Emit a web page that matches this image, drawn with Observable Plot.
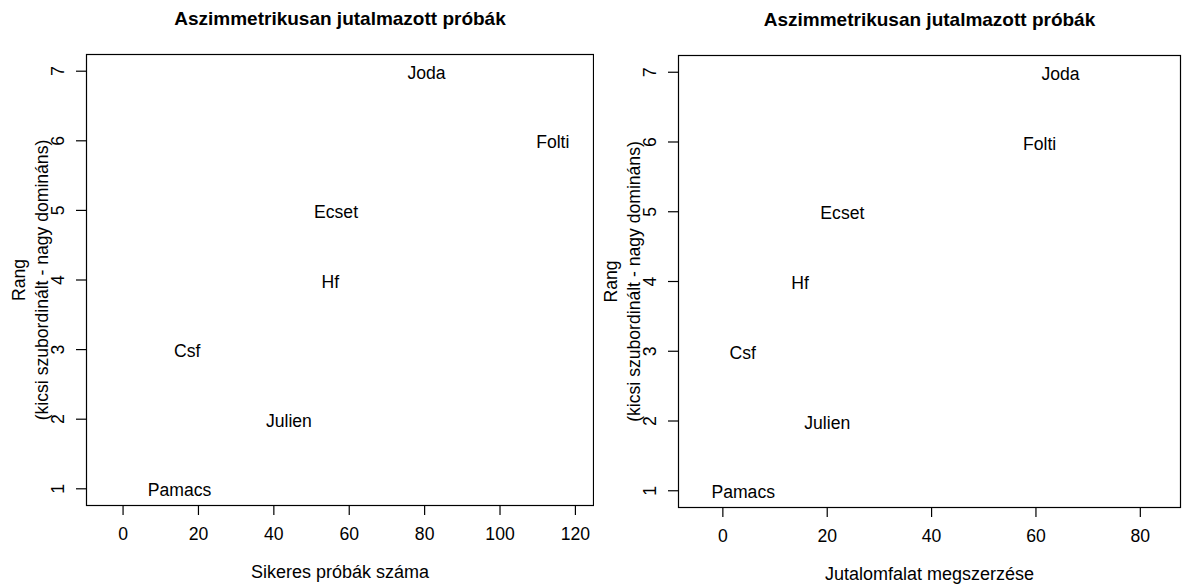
<!DOCTYPE html>
<html>
<head>
<meta charset="utf-8">
<script src="https://cdn.jsdelivr.net/npm/d3@7"></script>
<script src="https://cdn.jsdelivr.net/npm/@observablehq/plot@0.6"></script>
<style>
  html, body { margin: 0; padding: 0; background: #fff; }
  #charts { display: flex; width: 1184px; height: 586px; }
</style>
</head>
<body>
<div id="charts"></div>
<script>
// Individuals, ordered by rank (7 = most dominant)
const names = ["Joda", "Folti", "Ecset", "Hf", "Csf", "Julien", "Pamacs"];
const rang = [7, 6, 5, 4, 3, 2, 1];
// Number of successful trials
const sikeresProbak = [80.5, 114, 56.5, 55, 17, 44, 15];
// Reward bites obtained
const jutalomfalat = [64.7, 60.7, 22.9, 14.8, 3.8, 20, 3.9];

const xTicksLeft = [0, 20, 40, 60, 80, 100, 120];
const xTicksRight = [0, 20, 40, 60, 80];
const yTicks = [1, 2, 3, 4, 5, 6, 7];

const title = "Aszimmetrikusan jutalmazott próbák";
const yLabel = "Rang\n(kicsi szubordinált - nagy domináns)";
const xLabelLeft = "Sikeres próbák száma";
const xLabelRight = "Jutalomfalat megszerzése";

const font = "'Liberation Sans', Arial, Helvetica, sans-serif";

function panel({xs, xDomain, xTicks, xLabel, width, marginLeft, marginRight, marginTop, marginBottom}) {
  return Plot.plot({
    width,
    height: 586,
    marginLeft,
    marginRight,
    marginTop,
    marginBottom,
    style: {fontFamily: font, fontSize: "17.6px", color: "#000", background: "#fff"},
    x: {domain: xDomain},
    y: {domain: [0.76, 7.24]},
    marks: [
      Plot.frame({stroke: "#000", strokeWidth: 1.2}),
      Plot.axisX({ticks: xTicks, tickSize: 10, tickPadding: 12, label: null, stroke: "#000", strokeWidth: 1.2}),
      Plot.axisY({ticks: yTicks, tickSize: 10, tickFormat: () => "", label: null, stroke: "#000", strokeWidth: 1.2}),
      Plot.text(yTicks, {
        y: (d) => d, text: (d) => String(d), frameAnchor: "left",
        rotate: -90, dx: -28, textAnchor: "middle", lineAnchor: "middle"
      }),
      Plot.text(names, {x: xs, y: rang, text: names, dy: 2, textAnchor: "middle", lineAnchor: "middle"}),
      Plot.text([title], {
        text: (d) => d, frameAnchor: "top", dy: -36,
        textAnchor: "middle", lineAnchor: "middle", fontWeight: "bold", fontSize: 19
      }),
      Plot.text([xLabel], {
        text: (d) => d, frameAnchor: "bottom", dy: 67,
        textAnchor: "middle", lineAnchor: "middle", fontSize: 18
      }),
      Plot.text([yLabel], {
        text: (d) => d, frameAnchor: "left", rotate: -90, dx: -57,
        textAnchor: "middle", lineAnchor: "middle", lineHeight: 1.29
      })
    ]
  });
}

const charts = document.getElementById("charts");
charts.append(panel({
  xs: sikeresProbak, xDomain: [-9.7, 124.8], xTicks: xTicksLeft, xLabel: xLabelLeft,
  width: 594, marginLeft: 86, marginRight: 1, marginTop: 54, marginBottom: 81
}));
charts.append(panel({
  xs: jutalomfalat, xDomain: [-8.5, 87.7], xTicks: xTicksRight, xLabel: xLabelRight,
  width: 590, marginLeft: 84, marginRight: 4, marginTop: 55, marginBottom: 79
}));
</script>
</body>
</html>
